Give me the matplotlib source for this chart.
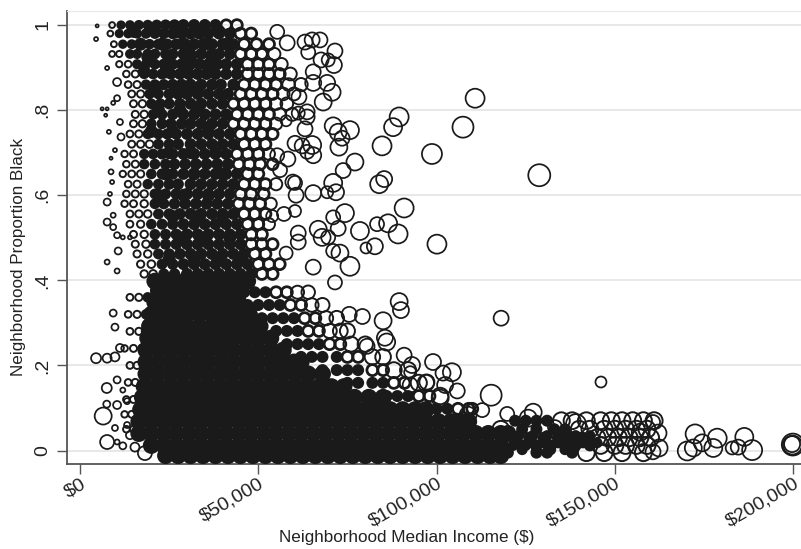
import matplotlib
matplotlib.use('Agg')
import matplotlib.pyplot as plt
import numpy as np

# income is in thousands of dollars
isolated_income = [128.8, 107.4, 110.8, 98.7, 90.9, 84.7, 87.8, 89.5, 100.1, 83.9, 85.3, 89.2, 86.4, 83.3, 78.5, 82.7, 80.2,
                   77.1, 73.8, 74.3, 71.0, 72.4, 75.7, 72.9, 71.0, 67.9, 69.6, 66.8, 61.2, 61.2, 65.4, 57.8,
                   71.0, 75.7, 72.4, 73.5, 72.6, 65.4, 60.3, 62.3, 65.1, 63.7, 58.3, 55.3, 70.7, 68.2, 71.2, 71.5,
                   67.3, 65.1, 63.1, 64.0, 67.6, 69.3, 65.4, 65.4, 69.6, 61.4, 63.7, 61.2, 63.7, 63.1, 57.8, 55.3, 58.1,
                   65.4, 60.6, 60.3, 71.0, 71.8, 69.3, 60.3, 57.2, 53.9, 56.1, 59.7,
                   85.0, 71.5, 75.5, 79.2, 90.0, 86.0, 80.5, 85.5, 89.5,
                   146.1, 118.1, 115.3, 119.8, 99.0, 104.3, 101.8, 97.3, 105.8, 102.4, 101.0, 93.1, 92.6, 90.9, 92.6,
                   108.8, 112.8, 127.1, 125.7, 133.2, 139.1, 160.7, 157.1, 162.1, 162.4, 160.7, 170.3, 172.0, 172.5,
                   174.5, 177.6, 178.7, 182.9, 186.3, 184.6, 188.5, 199.7, 199.8, 199.9,
                   4.5, 7.6, 9.8, 6.5, 7.6, 7.5, 7.5, 10.4, 9.8, 10.4, 12.0, 9.3, 9.8, 11.2, 10.4, 12.0, 13.2, 13.2, 14.0, 15.4, 18.2,
                   4.8, 4.5, 6.2, 7.6, 7.2, 7.6, 10.4, 10.4, 9.3, 11.2, 8.1, 11.5, 9.8, 8.7, 8.7, 9.0, 8.4, 7.6, 9.3, 7.6, 9.3, 10.4, 10.7, 7.6, 10.4, 12.0, 14.0]
isolated_prop = [.647, .760, .828, .697, .570, .716, .760, .784, .485, .626, .638, .509, .534, .532, .516, .480, .476,
                 .678, .658, .558, .548, .522, .433, .464, .469, .501, .501, .520, .511, .490, .431, .464,
                 .763, .753, .748, .734, .713, .694, .722, .716, .718, .702, .685, .694, .842, .819, .906, .939,
                 .965, .965, .960, .936, .918, .864, .864, .890, .918, .831, .796, .793, .784, .756, .775, .984, .958,
                 .605, .600, .629, .629, .607, .607, .563, .556, .551, .659, .631,
                 .305, .395, .320, .315, .330, .255, .245, .265, .350,
                 .161, .311, .130, .086, .208, .184, .182, .161, .140, .154, .123, .201, .184, .224, .154,
                 .083, .095, .090, .076, .055, .062, .067, .043, .041, .006, -.003, -.001, .006, .039,
                 .018, .006, .029, .006, .032, .008, .001, .015, .013, .014,
                 .217, .217, .220, .081, .020, .147, .109, .107, .053, .020, .011, .323, .290, .241, .166, .142, .116, .060, .036, .008, -.006,
                 .998, .967, .803, .803, .788, .899, .866, .828, .817, .772, .749, .737, .706, .687, .655, .631, .603, .584, .553, .537, .525, .506, .469, .443, .422, .501, .501]
isolated_size = [22, 21, 19, 20, 19, 19, 18, 19, 19, 18, 16, 19, 18, 14, 18, 16, 11,
                 17, 15, 18, 14, 15, 19, 17, 14, 17, 14, 17, 15, 15, 15, 13,
                 17, 18, 17, 15, 17, 16, 15, 15, 18, 14, 15, 14, 17, 17, 16, 15,
                 15, 15, 15, 14, 15, 16, 16, 15, 13, 15, 15, 13, 15, 15, 11, 14, 15,
                 16, 15, 14, 18, 16, 12, 12, 14, 12, 14, 15,
                 17, 14, 15, 15, 16, 17, 15, 16, 17,
                 11, 15, 21, 14, 16, 18, 15, 15, 15, 16, 17, 16, 12, 15, 15,
                 17, 14, 17, 17, 14, 20, 14, 17, 17, 17, 15, 19, 17, 19,
                 17, 18, 19, 13, 18, 15, 20, 16, 19, 22,
                 10, 9, 9, 17, 14, 10, 7, 8, 6, 5, 7, 7, 7, 8, 7, 5, 6, 6, 8, 9, 14,
                 3, 4, 3, 3, 3, 4, 8, 6, 4, 6, 4, 7, 4, 3, 5, 4, 4, 7, 5, 7, 6, 6, 7, 5, 5, 4, 4]

# rows of overlapping rings in the crowded part, one income list per proportion level
ring_levels = [1.0, .98, .955, .932, .908, .885, .86, .838, .815, .79, .768, .744, .72, .697, .673, .65, .626, .603, .58, .556,
               .532, .508, .485, .462, .438, .415,
               .372, .342, .311, .281, .25, .22, .189, .159, .128, .098,
               .36, .32, .28, .24, .2, .16, .12, .085, .05,
               .07, .05, .03, .012, -.005]
ring_incomes = [
    [9, 11.5, 14, 16.5, 19, 21.5, 24, 26.5, 29, 32, 35, 38, 41, 44],
    [8.5, 11, 13.5, 16, 18.5, 21, 23.5, 26, 28.5, 31, 33.5, 36, 39, 42, 45, 48],
    [9.5, 12, 14.5, 17, 19.5, 22, 24.5, 27, 29.5, 32, 34.5, 37, 40, 43, 46, 49.5, 53],
    [9, 11, 14, 16, 19, 21, 24, 26, 29, 31, 34, 37, 39, 42, 45, 48, 51, 54.5],
    [11, 13.5, 16, 18.5, 21, 23.5, 26, 28.5, 31, 33.5, 36, 38.5, 41, 44, 47, 50, 53, 56.5],
    [13, 15.5, 18, 20.5, 23, 25.5, 28, 30.5, 33, 35.5, 38, 41, 44, 47, 50, 53, 56, 59],
    [13.5, 16, 18.5, 21, 23.5, 26, 28.5, 31, 34, 37, 39.5, 43, 46, 49, 52, 55, 58.5, 62],
    [14.5, 17, 19.5, 22, 25, 27.5, 30, 33, 36, 39, 41.5, 45, 48, 51, 54, 57, 60],
    [15, 17.5, 20, 22.5, 25, 28, 31, 34, 37, 40, 43, 46, 49, 52, 55, 58],
    [15.5, 18, 20.5, 23, 26, 29, 32, 35, 38, 41, 44, 47, 50, 53, 56, 59.5],
    [15, 17.5, 20, 23, 25.5, 28.5, 31, 34, 37, 40, 43, 46, 49, 52, 55],
    [14, 16.5, 19, 22, 24.5, 27, 30, 33, 36, 39, 42, 45, 48, 51, 54],
    [14.5, 17, 19.5, 22, 25, 27.5, 31, 34, 37, 40, 43, 46, 49, 52],
    [12.5, 15, 18, 20.5, 23, 26, 29, 32, 35, 38, 41, 44, 47, 50, 53],
    [13, 15.5, 18, 21, 24, 26.5, 29.5, 32.5, 35.5, 38.5, 41.5, 44.5, 47.5, 50.5, 54],
    [12, 14.5, 17, 20, 23, 26, 29, 32, 35, 38, 41, 44, 47, 50],
    [13.5, 16, 19, 22, 25, 27.5, 31, 34, 37, 40, 43, 46, 49, 52, 55],
    [13, 15.5, 18, 21, 24, 27, 30, 33, 36, 39, 42, 45, 48, 51.5],
    [12.5, 15, 18, 21, 23.5, 26.5, 29.5, 32.5, 35.5, 38.5, 41.5, 44.5, 47.5, 50.5, 53.5],
    [14, 16.5, 19, 22, 25, 28, 31, 34, 37, 40, 43, 46, 49, 52],
    [14, 17, 20, 23, 26, 29, 32, 35, 38, 41, 44, 47, 50, 53],
    [15, 18, 21, 24, 27, 30, 33, 36, 39, 42, 45, 48, 51],
    [15.5, 18.5, 21, 24, 27, 30, 33, 36, 39, 42, 45, 48, 51, 54],
    [16, 19, 22, 25, 28, 31, 34, 37, 40, 43, 46, 49, 52],
    [17, 20, 23, 26, 29, 32, 35, 38, 41, 44, 47, 50, 53, 56],
    [18, 20.5, 23.5, 26.5, 30, 33, 36, 39, 42, 45, 48, 51, 54],
    [43, 46, 49, 52, 55, 58, 61, 64],
    [47, 50, 53, 56, 59, 62, 65, 68],
    [51, 54, 57, 60, 63, 66, 69, 72],
    [55, 58, 61, 64, 67, 70, 73, 75],
    [58, 61, 64, 67, 70, 73, 76, 80],
    [62, 65, 68, 72, 75, 78, 82, 85],
    [68, 72, 75, 78, 82, 85, 88, 92],
    [75, 78, 82, 85, 88, 91, 95, 97],
    [86, 89, 92, 95, 98, 101],
    [97, 100, 103, 106, 109, 110],
    [14, 16.5, 19], [13.5, 16, 18.5], [14, 16.5, 18.5], [12.5, 15, 17.5], [14, 16], [13.5, 15.5], [13, 15], [12.5, 14.5], [13, 15],
    [122, 125, 128, 131, 135, 138, 142, 146, 149, 152, 155, 158, 161],
    [118, 124, 128, 133, 136, 140, 143, 147, 150, 153, 156, 159],
    [122, 126, 130, 134, 137, 141, 145, 148, 151, 154, 157, 160],
    [124, 128, 132, 136, 139, 143, 146, 150, 153, 156, 159],
    [104, 112, 120, 128, 131, 138, 142, 147, 152, 158],
]
# income range per row where the rings have merged into near-black
core_left = [10, 10, 11, 13, 15, 17, 17, 18, 18, 19, 19, 19, 20, 18, 18, 18, 19, 19, 19, 20, 20, 21, 21, 22, 22, 22,
             0, 0, 0, 0, 0, 0, 0, 0, 0, 0,
             17, 17, 17, 17, 17, 17, 17, 17, 17,
             120, 120, 120, 120, 120]
core_right = [40, 42, 44, 44, 45, 46, 44, 44, 42, 42, 42, 44, 44, 42, 44, 44, 44, 42, 44, 44, 44, 46, 46, 46, 48, 48,
              52, 56, 60, 63, 68, 72, 78, 85, 92, 103,
              20, 20, 20, 20, 20, 20, 20, 20, 20,
              133, 136, 142, 145, 140]
# how far past the core the rings still read as speckled black
speckle_width = [6, 8, 10, 10, 10, 12, 14, 12, 12, 12, 12, 10, 8, 10, 10, 8, 10, 10, 8, 8, 8, 6, 8, 6, 8, 6,
                 6, 6, 6, 6, 6, 8, 8, 8, 8, 8,
                 0, 0, 0, 0, 0, 0, 0, 0, 0,
                 0, 0, 0, 0, 0]

# solid black mass, where the rings overlap too much to tell apart
mass_levels = [.985, .955, .925, .89, .85, .80, .75, .70, .65, .60, .55, .50, .45, .398,
               .376, .348, .32, .292, .264, .236, .208, .18, .15, .125, .096, .068, .04, .012, -.012,
               .035, .018, .002]
mass_incomes = [
    [15, 21, 27, 33, 39],
    [17, 23, 29, 35, 41],
    [19, 25, 31, 37],
    [18, 24, 30, 36],
    [21, 27, 33],
    [22, 28, 33],
    [20, 26, 36],
    [25, 31, 38],
    [24, 32, 40],
    [22, 29, 36],
    [26, 33, 40],
    [28, 35, 42],
    [25, 32, 39, 45],
    [21, 24, 27, 30.5, 34, 37.5, 41, 44, 47],
    [22, 25, 28, 31, 34, 37, 40, 42.5],
    [21, 24.5, 28, 31, 34.5, 38, 41, 44.5],
    [20, 23.5, 27, 30, 33.5, 37, 40.5, 44, 47.5],
    [19.5, 23, 26.5, 30, 33.5, 37, 40, 43.5, 47, 50.5],
    [19, 22.5, 26, 29.5, 33, 36.5, 40, 43, 46.5, 50, 53.5],
    [18.5, 22, 25.5, 29, 32.5, 36, 39.5, 43, 46.5, 50, 53.5, 57],
    [18.5, 22, 25.5, 29, 32.5, 36, 39.5, 43, 46.5, 50, 53.5, 57, 60, 62],
    [18.5, 22, 25.5, 29, 32.5, 36, 39.5, 43, 46.5, 50, 53.5, 57, 60.5, 64, 68],
    [18, 21.5, 25, 28.5, 32, 35.5, 39, 42.5, 46, 49.5, 53, 56.5, 60, 63.5, 67, 70.5, 74],
    [17.5, 21, 24.5, 28, 31.5, 35, 38.5, 42, 45.5, 49, 52.5, 56, 59.5, 63, 66.5, 70, 73.5, 77, 81, 85],
    [17, 20.5, 24, 27.5, 31, 34.5, 38, 41.5, 45, 48.5, 52, 55.5, 59, 62.5, 66, 69.5, 73, 76.5, 80, 83.5, 87, 90.5, 94, 97],
    [16.5, 20, 23.5, 27, 30.5, 34, 37.5, 41, 44.5, 48, 51.5, 55, 58.5, 62, 65.5, 69, 72.5, 76, 79.5, 83, 86.5, 90, 93.5, 97, 100.5, 104, 107, 109],
    [16.5, 20, 23.5, 27, 30.5, 34, 37.5, 41, 44.5, 48, 51.5, 55, 58.5, 62, 65.5, 69, 72.5, 76, 79.5, 83, 86.5, 90, 93.5, 97, 100.5, 104, 107.5, 111, 114.5, 118, 120],
    [20, 23.5, 27, 30.5, 34, 37.5, 41, 44.5, 48, 51.5, 55, 58.5, 62, 65.5, 69, 72.5, 76, 79.5, 83, 86.5, 90, 93.5, 97, 100.5, 104, 107.5, 111, 114.5, 118, 121.5, 125],
    [24, 27.5, 31, 34.5, 38, 41.5, 45, 48.5, 52, 55.5, 59, 62.5, 66, 69.5, 73, 76.5, 80, 83.5, 87, 90.5, 94, 97.5, 101, 104.5, 108, 111.5, 115, 118],
    [123, 127, 131, 135, 139, 143],
    [122, 126, 130, 134, 138, 141, 145],
    [124, 128, 132, 136],
]

x_ticks = [0, 50, 100, 150, 200]
x_labels = ['$0', '$50,000', '$100,000', '$150,000', '$200,000']
y_ticks = [0, .2, .4, .6, .8, 1]
y_labels = ['0', '.2', '.4', '.6', '.8', '1']

INK = '#1a1a1a'


def area(diameter_px):
    # scatter wants points squared, figure is at 100 dpi
    return (np.asarray(diameter_px) * 0.72) ** 2


def flatten(levels, incomes):
    xs, ys = [], []
    for level, row in zip(levels, incomes):
        xs.extend(row)
        ys.extend([level] * len(row))
    return np.array(xs), np.array(ys)


def per_ring(values):
    # repeat a per-row value for each ring of that row
    return np.concatenate([[v] * len(r) for v, r in zip(values, ring_incomes)])


plt.rcParams['font.family'] = ['Liberation Sans', 'DejaVu Sans']

fig = plt.figure(figsize=(8.01, 5.49), dpi=100)
ax = fig.add_axes([67 / 801, 1 - 464 / 549, 734 / 801, 453 / 549])

ring_x, ring_y = flatten(ring_levels, ring_incomes)
left_x = per_ring(core_left)
right_x = per_ring(core_right)
in_core = (ring_x >= left_x) & (ring_x <= right_x)
in_speckle = (ring_x > right_x) & (ring_x <= right_x + per_ring(speckle_width))
open_ring = ~in_core & ~in_speckle
mass_x, mass_y = flatten(mass_levels, mass_incomes)
# rings get bigger with income in the crowded part
ring_d = np.interp(ring_x, [5, 15, 30, 50, 75, 100, 160], [5, 7, 9, 11.5, 15, 16.5, 17])
mass_d = np.where(mass_x > 120, 11, np.where(mass_y > .4, 13, 17))

ax.scatter(mass_x, mass_y, s=area(mass_d), color=INK, linewidths=0, zorder=3, clip_on=False)
ax.scatter(ring_x[in_core], ring_y[in_core], s=area(np.minimum(ring_d[in_core] + 3, 12)), color=INK, linewidths=0, zorder=3, clip_on=False)
ax.scatter(ring_x[in_speckle], ring_y[in_speckle], s=area(np.minimum(ring_d[in_speckle], 11)), facecolors='none', edgecolors=INK, linewidths=2.0, zorder=3, clip_on=False)
ax.scatter(ring_x[open_ring], ring_y[open_ring], s=area(ring_d[open_ring]), facecolors='none', edgecolors=INK, linewidths=1.4, zorder=3, clip_on=False)
ax.scatter(isolated_income, isolated_prop, s=area(isolated_size), facecolors='none', edgecolors=INK, linewidths=1.25, zorder=3, clip_on=False)

ax.set_xlim(-3.65, 202.2)
ax.set_ylim(-.0317, 1.033)
ax.set_xticks(x_ticks)
ax.set_xticklabels(x_labels, rotation=30, ha='right', rotation_mode='anchor', fontsize=14, color='#222222')
ax.set_yticks(y_ticks)
ax.set_yticklabels(y_labels, rotation=90, va='center', fontsize=14, color='#222222')
ax.tick_params(axis='both', length=7, width=1, color='#555555', pad=4)
ax.tick_params(axis='x', pad=1)

ax.grid(axis='y', color='#e4e4e4', linewidth=1.2)
ax.set_axisbelow(True)
for side in ['left', 'bottom']:
    ax.spines[side].set_color('#555555')
    ax.spines[side].set_linewidth(1.3)
ax.spines['right'].set_visible(False)
ax.spines['top'].set_color('#e8e8e8')

ax.set_xlabel('Neighborhood Median Income ($)', fontsize=12.3, color='#222222')
ax.set_ylabel('Neighborhood Proportion Black', fontsize=12.3, color='#222222')
ax.xaxis.set_label_coords(.463, -.146)
ax.yaxis.set_label_coords(-.056, .457)

fig.savefig('out.png', dpi=100)
